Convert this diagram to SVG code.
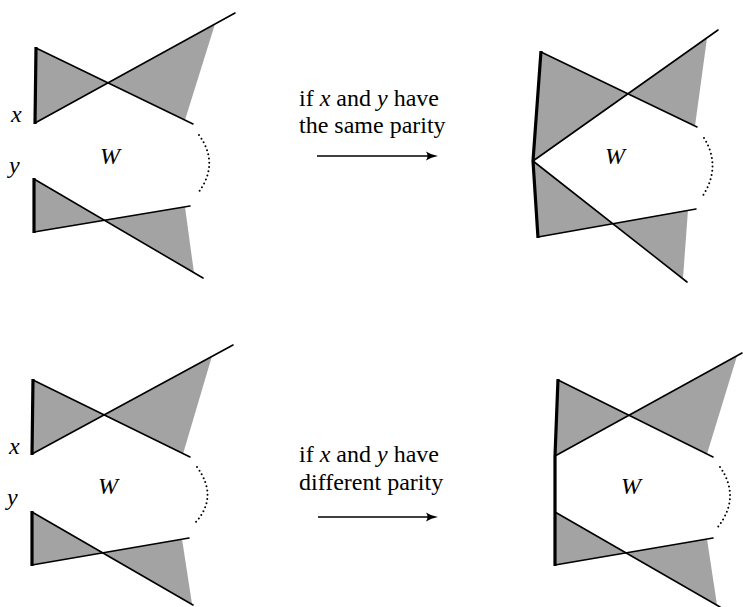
<svg xmlns="http://www.w3.org/2000/svg" width="743" height="607" viewBox="0 0 743 607" font-family="Liberation Serif, serif">
<rect width="743" height="607" fill="#fff"/>

<g id="panel-top-left">
<g fill="#a3a3a3" stroke="none">
<polygon points="36,48 35,123 108,83"/>
<polygon points="108,83 215,24 185,120"/>
<polygon points="34,179 34,232 104.4,220.3"/>
<polygon points="104.4,220.3 185,207 194,273"/>
</g>
<g fill="none" stroke="#000" stroke-width="1.6" stroke-linecap="round">
<line x1="36" y1="48" x2="193" y2="124"/>
<line x1="35" y1="123" x2="235" y2="13"/>
<line x1="34" y1="179" x2="203" y2="278"/>
<line x1="34" y1="232" x2="190" y2="206"/>
</g>
<g fill="none" stroke="#000" stroke-width="3.2">
<line x1="36" y1="47" x2="35" y2="124"/>
<line x1="34" y1="178" x2="34" y2="233"/>
</g>
<path d="M199,135 Q220,164 198,193" fill="none" stroke="#000" stroke-width="2" stroke-linecap="round" stroke-dasharray="0 4.3"/>
<text x="11" y="122" font-family="Liberation Serif" font-style="italic" font-size="24">x</text>
<text x="9" y="173" font-family="Liberation Serif" font-style="italic" font-size="24">y</text>
<text x="100" y="164" font-family="Liberation Serif" font-style="italic" font-size="24">W</text>
</g>

<g id="panel-top-right">
<g fill="#a3a3a3" stroke="none">
<polygon points="541,52 533,161 627.9,93.8"/>
<polygon points="627.9,93.8 707,38 695,126"/>
<polygon points="533,161 538,237 612.8,223.7"/>
<polygon points="612.8,223.7 688,210 683,278"/>
</g>
<g fill="none" stroke="#000" stroke-width="1.6" stroke-linecap="round">
<line x1="541" y1="52" x2="697" y2="127"/>
<line x1="533" y1="161" x2="718" y2="30"/>
<line x1="533" y1="161" x2="687" y2="282"/>
<line x1="538" y1="237" x2="696" y2="209"/>
</g>
<polyline points="541,51 533,161 538,238" fill="none" stroke="#000" stroke-width="3.2" stroke-linejoin="round"/>
<path d="M704,138 Q722,167 702,197" fill="none" stroke="#000" stroke-width="2" stroke-linecap="round" stroke-dasharray="0 4.3"/>
<text x="605" y="164" font-family="Liberation Serif" font-style="italic" font-size="24">W</text>
</g>

<g id="panel-bottom-left">
<g fill="#a3a3a3" stroke="none">
<polygon points="33,380 32,454 104.1,414.9"/>
<polygon points="104.1,414.9 212,356 183,454"/>
<polygon points="32,512 32,565 102.7,552.8"/>
<polygon points="102.7,552.8 182,539 192,604"/>
</g>
<g fill="none" stroke="#000" stroke-width="1.6" stroke-linecap="round">
<line x1="33" y1="380" x2="190" y2="457"/>
<line x1="32" y1="454" x2="233" y2="345"/>
<line x1="32" y1="512" x2="193" y2="605"/>
<line x1="32" y1="565" x2="189" y2="538"/>
</g>
<g fill="none" stroke="#000" stroke-width="3.2">
<line x1="33" y1="379" x2="32" y2="455"/>
<line x1="32" y1="511" x2="32" y2="566"/>
</g>
<path d="M197,467 Q219,497 195,523" fill="none" stroke="#000" stroke-width="2" stroke-linecap="round" stroke-dasharray="0 4.3"/>
<text x="9" y="454" font-family="Liberation Serif" font-style="italic" font-size="24">x</text>
<text x="7" y="505" font-family="Liberation Serif" font-style="italic" font-size="24">y</text>
<text x="98" y="494" font-family="Liberation Serif" font-style="italic" font-size="24">W</text>
</g>

<g id="panel-bottom-right">
<g fill="#a3a3a3" stroke="none">
<polygon points="558,380 555,456 629,415.3"/>
<polygon points="629,415.3 737,356 707,454"/>
<polygon points="555,512 555,565 626,552.9"/>
<polygon points="626,552.9 707,539 717,605"/>
</g>
<g fill="none" stroke="#000" stroke-width="1.6" stroke-linecap="round">
<line x1="558" y1="380" x2="713" y2="457"/>
<line x1="555" y1="456" x2="742" y2="353"/>
<line x1="555" y1="512" x2="720" y2="607"/>
<line x1="555" y1="565" x2="713" y2="538"/>
</g>
<polyline points="558,379 555,456 555,566" fill="none" stroke="#000" stroke-width="3.2" stroke-linejoin="round"/>
<path d="M720,467 Q741,497 718,527" fill="none" stroke="#000" stroke-width="2" stroke-linecap="round" stroke-dasharray="0 4.3"/>
<text x="621" y="494" font-family="Liberation Serif" font-style="italic" font-size="24">W</text>
</g>

<g id="label-same">
<text x="299" y="106" font-family="Liberation Serif" font-size="24">if <tspan font-style="italic">x</tspan> and <tspan font-style="italic">y</tspan> have</text>
<text x="299" y="133" font-family="Liberation Serif" font-size="24">the same parity</text>
</g>
<g id="label-different">
<text x="299" y="462" font-family="Liberation Serif" font-size="24">if <tspan font-style="italic">x</tspan> and <tspan font-style="italic">y</tspan> have</text>
<text x="299" y="490" font-family="Liberation Serif" font-size="24">different parity</text>
</g>

<g id="connectors">
<line x1="317" y1="156" x2="430" y2="156" stroke="#000" stroke-width="1.6"/>
<path d="M426,151.5 Q431,155 438,156 Q431,157 426,160.5 Q429,156 426,151.5 Z" fill="#000"/>
<line x1="318" y1="517" x2="430" y2="517" stroke="#000" stroke-width="1.6"/>
<path d="M426,512.5 Q431,516 438,517 Q431,518 426,521.5 Q429,517 426,512.5 Z" fill="#000"/>
</g>
</svg>
